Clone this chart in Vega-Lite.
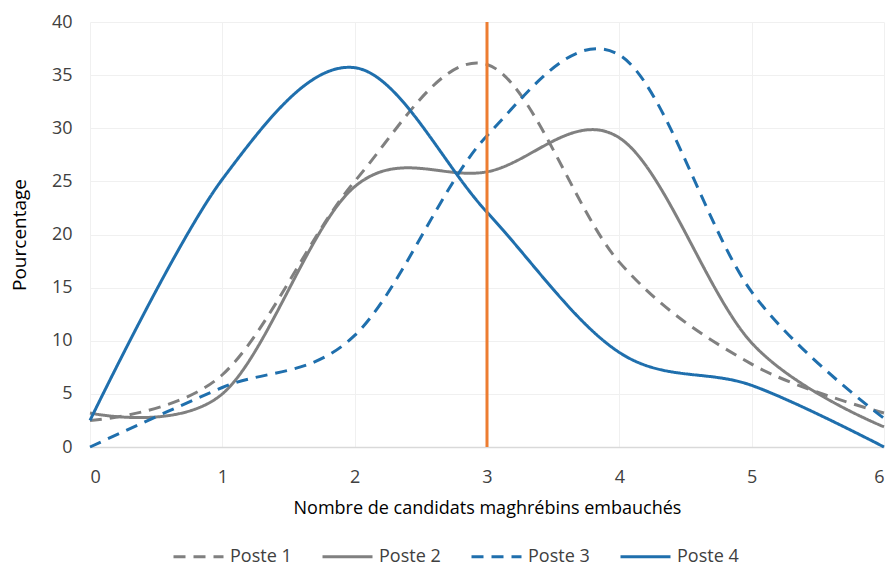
{
  "$schema": "https://vega.github.io/schema/vega-lite/v6.json",
  "width": 794,
  "height": 425,
  "autosize": {"type": "none"},
  "padding": {"left": 90, "top": 22, "right": 9, "bottom": 120},
  "background": "white",
  "config": {
    "view": {"stroke": null},
    "font": "Open Sans",
    "axis": {
      "labelFont": "Open Sans",
      "titleFont": "Open Sans",
      "labelColor": "#404040",
      "titleColor": "#000000",
      "labelFontSize": 18,
      "titleFontSize": 18,
      "titleFontWeight": "normal",
      "gridColor": "#f0f0f0",
      "gridWidth": 1,
      "ticks": false,
      "domainColor": "#d9d9d9",
      "domainWidth": 1.5
    },
    "legend": {
      "labelFont": "Open Sans",
      "labelFontSize": 18,
      "labelColor": "#404040"
    }
  },
  "datasets": {
    "series": [
      {"x": 0, "y": 2.5, "s": "Poste 1"},
      {"x": 1, "y": 6.8, "s": "Poste 1"},
      {"x": 2, "y": 25, "s": "Poste 1"},
      {"x": 3, "y": 36, "s": "Poste 1"},
      {"x": 4, "y": 17.4, "s": "Poste 1"},
      {"x": 5, "y": 7.8, "s": "Poste 1"},
      {"x": 6, "y": 3.2, "s": "Poste 1"},
      {"x": 0, "y": 3.2, "s": "Poste 2"},
      {"x": 1, "y": 5, "s": "Poste 2"},
      {"x": 2, "y": 24.5, "s": "Poste 2"},
      {"x": 3, "y": 25.9, "s": "Poste 2"},
      {"x": 4, "y": 29.1, "s": "Poste 2"},
      {"x": 5, "y": 9.8, "s": "Poste 2"},
      {"x": 6, "y": 1.9, "s": "Poste 2"},
      {"x": 0, "y": 0, "s": "Poste 3"},
      {"x": 1, "y": 5.6, "s": "Poste 3"},
      {"x": 2, "y": 10.5, "s": "Poste 3"},
      {"x": 3, "y": 29.3, "s": "Poste 3"},
      {"x": 4, "y": 36.9, "s": "Poste 3"},
      {"x": 5, "y": 14.6, "s": "Poste 3"},
      {"x": 6, "y": 2.7, "s": "Poste 3"},
      {"x": 0, "y": 2.5, "s": "Poste 4"},
      {"x": 1, "y": 25.2, "s": "Poste 4"},
      {"x": 2, "y": 35.7, "s": "Poste 4"},
      {"x": 3, "y": 22.1, "s": "Poste 4"},
      {"x": 4, "y": 8.9, "s": "Poste 4"},
      {"x": 5, "y": 5.8, "s": "Poste 4"},
      {"x": 6, "y": 0, "s": "Poste 4"}
    ],
    "marker": [{"x": 3, "y": 0, "y2": 40}]
  },
  "layer": [
    {
      "data": {"name": "series"},
      "mark": {"type": "line", "interpolate": "cardinal", "tension": 0, "strokeWidth": 3},
      "encoding": {
        "x": {
          "field": "x", "type": "quantitative",
          "scale": {"domain": [0, 6], "nice": false},
          "axis": {"values": [0, 1, 2, 3, 4, 5, 6], "format": "d", "title": "Nombre de candidats maghrébins  embauchés", "labelPadding": 21, "titlePadding": 13, "grid": true}
        },
        "y": {
          "field": "y", "type": "quantitative",
          "scale": {"domain": [0, 40], "nice": false},
          "axis": {"values": [0, 5, 10, 15, 20, 25, 30, 35, 40], "title": "Pourcentage", "titleFontSize": 19, "labelPadding": 18, "titlePadding": 22, "domain": false, "grid": true}
        },
        "color": {
          "field": "s", "type": "nominal",
          "scale": {"domain": ["Poste 1", "Poste 2", "Poste 3", "Poste 4"], "range": ["#808080", "#808080", "#1f6fad", "#1f6fad"]},
          "legend": {
            "title": null, "orient": "none", "direction": "horizontal",
            "legendX": 82, "legendY": 508, "columns": 4,
            "symbolType": "stroke", "symbolSize": 2500, "symbolStrokeWidth": 3,
            "labelOffset": 5, "columnPadding": 24
          }
        },
        "strokeDash": {
          "field": "s", "type": "nominal",
          "scale": {"domain": ["Poste 1", "Poste 2", "Poste 3", "Poste 4"], "range": [[12, 8], [1, 0], [12, 8], [1, 0]]},
          "legend": {
            "title": null, "orient": "none", "direction": "horizontal",
            "legendX": 82, "legendY": 508, "columns": 4,
            "symbolType": "stroke", "symbolSize": 2500, "symbolStrokeWidth": 3,
            "labelOffset": 5, "columnPadding": 24
          }
        }
      }
    },
    {
      "data": {"name": "marker"},
      "mark": {"type": "rule", "color": "#ed7d31", "strokeWidth": 3},
      "encoding": {
        "x": {"field": "x", "type": "quantitative"},
        "y": {"field": "y", "type": "quantitative"},
        "y2": {"field": "y2"}
      }
    }
  ]
}
